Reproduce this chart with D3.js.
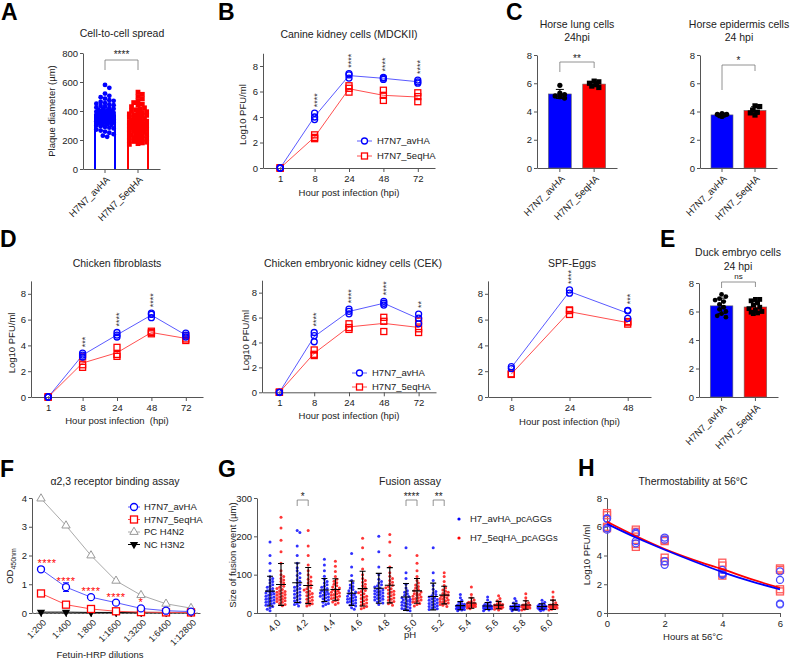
<!DOCTYPE html>
<html>
<head>
<meta charset="utf-8">
<script src="https://cdn.jsdelivr.net/npm/d3@7"></script>
<style>
  body { margin: 0; background: #fff; }
  svg { display: block; font-family: "Liberation Sans", Arial, Helvetica, sans-serif; }
</style>
</head>
<body>
<svg id="fig" width="792" height="661"></svg>
<script>
// ---------------- data ----------------
const groups = ["H7N7_avHA", "H7N7_5eqHA"];

// A: plaque diameters (µm)
const plaqueAv = [580, 560, 520, 505, 495, 485, 475, 470, 462, 455, 450, 445, 440, 435, 430, 425, 420, 415, 412, 408,
  405, 400, 398, 395, 392, 390, 387, 385, 382, 380, 378, 375, 372, 370, 368, 365, 362, 360, 358, 355, 352, 350, 348,
  345, 342, 340, 338, 335, 332, 330, 327, 325, 322, 320, 316, 312, 308, 305, 300, 295, 290, 285, 280, 272, 265, 258,
  250, 240, 230, 222];
const plaqueEq = [530, 515, 500, 485, 470, 458, 448, 440, 430, 422, 415, 408, 400, 395, 390, 385, 380, 375, 370, 365,
  360, 355, 350, 346, 342, 338, 334, 330, 326, 322, 318, 315, 312, 309, 306, 303, 300, 297, 294, 291, 288, 285, 282,
  279, 276, 273, 270, 266, 262, 258, 254, 250, 246, 242, 238, 234, 230, 225, 220, 215, 210, 205, 200, 195, 190, 185,
  180, 175, 170];

// B: MDCKII growth curve (log10 PFU/ml, replicates per time point)
const hpi = ["1", "8", "24", "48", "72"];
const mdckAv = [[0, 0, 0], [3.8, 4.0, 4.3], [7.05, 7.3, 7.4], [6.95, 7.05, 7.1], [6.65, 6.75, 6.9]];
const mdckEq = [[0, 0, 0], [2.3, 2.4, 2.6], [5.95, 6.25, 6.45], [5.3, 5.7, 6.1], [5.2, 5.6, 5.9]];
const mdckStars = ["", "****", "****", "****", "****"];

// C: horse cells, 24 hpi
const lungAv = [5.85, 5.3, 5.2, 5.05, 4.95, 5.1];
const lungEq = [6.15, 6.1, 6.0, 5.8, 5.7, 5.9];
const epiAv = [3.85, 3.8, 3.8, 3.75, 3.7, 3.65];
const epiEq = [4.4, 4.35, 4.1, 3.95, 3.9, 3.75];

// D: chicken cells / eggs
const fibAv = [[0, 0, 0], [3.1, 3.25, 3.4], [4.65, 4.8, 5.0], [6.15, 6.4, 6.5], [4.65, 4.8, 4.95]];
const fibEq = [[0, 0, 0], [2.3, 2.5, 3.1], [3.15, 3.3, 3.85], [4.9, 5.0, 5.1], [4.38, 4.5, 4.75]];
const fibStars = ["", "***", "****", "****", ""];
const cekAv = [[0, 0, 0], [4.06, 4.55, 4.8], [6.3, 6.5, 6.67], [7.0, 7.15, 7.3], [5.5, 5.95, 6.28]];
const cekEq = [[0, 0, 0], [2.95, 3.05, 3.4], [5.05, 5.2, 5.5], [4.88, 5.7, 6.02], [4.8, 5.1, 5.72]];
const cekStars = ["", "****", "****", "****", "**"];
const eggHpi = ["8", "24", "48"];
const eggAv = [[2.2, 2.35], [8.05, 8.3], [6.1, 6.68, 6.72]];
const eggEq = [[1.75, 1.8], [6.4, 6.7, 6.75], [5.65, 5.8, 5.85]];
const eggStars = ["", "****", "***"];

// E: duck embryo cells, 24 hpi
const duckAv = [7.2, 7.05, 6.9, 6.8, 6.7, 6.5, 6.3, 6.15, 6.0, 5.85, 5.7, 5.6];
const duckEq = [6.85, 6.85, 6.75, 6.6, 6.45, 6.3, 6.2, 6.1, 6.0, 5.95, 5.9, 5.85];

// F: receptor binding (OD450)
const dilutions = ["1:200", "1:400", "1:800", "1:1600", "1:3200", "1:6400", "1:12800"];
const odAv = [1.52, 0.9, 0.55, 0.36, 0.16, 0.08, 0.05];
const odAvSd = [0.06, 0.15, 0.04, 0.04, 0.03, 0.02, 0.02];
const odEq = [0.68, 0.29, 0.14, 0.06, 0.03, 0.02, 0.02];
const odEqSd = [0.07, 0.04, 0.03, 0.02, 0.01, 0.01, 0.01];
const odPC = [3.98, 3.04, 2.0, 1.12, 0.62, 0.32, 0.17];
const odNC = [0.03, 0.03, 0.02, 0.02, 0.02, 0.02, 0.02];
const odStars = ["****", "****", "****", "****", "*", "", ""];
const fSeries = ["H7N7_avHA", "H7N7_5eqHA", "PC H4N2", "NC H3N2"];

// G: fusion event sizes (µm) per pH
const phs = ["4.0", "4.2", "4.4", "4.6", "4.8", "5.0", "5.2", "5.4", "5.6", "5.8", "6.0"];
const fusionAv = [
  [185, 150, 130, 110, 95, 90, 86, 82, 78, 74, 70, 67, 64, 61, 58, 56, 54, 52, 50, 48, 46, 44, 42, 40, 38, 36, 34, 32, 30, 28, 26, 24, 22, 20, 17, 14, 10, 6],
  [215, 210, 175, 150, 130, 118, 110, 104, 98, 92, 87, 82, 78, 74, 70, 67, 64, 61, 58, 55, 52, 49, 46, 43, 40, 37, 34, 31, 28, 25, 22, 18],
  [140, 125, 110, 96, 88, 82, 78, 74, 70, 67, 64, 61, 58, 56, 54, 52, 50, 48, 46, 44, 42, 40, 37, 34, 31, 28, 25, 22, 18],
  [155, 120, 98, 85, 78, 73, 69, 65, 61, 58, 55, 52, 50, 48, 46, 44, 42, 40, 38, 36, 34, 32, 30, 28, 26, 24, 21, 18, 14, 10],
  [200, 160, 120, 100, 88, 82, 78, 74, 71, 68, 65, 62, 60, 58, 56, 54, 52, 50, 48, 46, 44, 42, 40, 38, 36, 34, 32, 29, 26, 22],
  [170, 105, 90, 75, 65, 58, 54, 50, 46, 43, 40, 38, 36, 34, 32, 30, 28, 26, 24, 22, 20, 18, 16, 14, 12, 10, 8, 6],
  [170, 105, 85, 72, 62, 56, 52, 48, 45, 42, 39, 37, 35, 33, 31, 29, 27, 25, 23, 21, 19, 17, 15, 13, 11, 9],
  [48, 40, 33, 28, 25, 23, 21, 20, 19, 18, 17, 16, 15, 14, 13, 12, 11, 10, 9, 8, 6],
  [42, 34, 28, 24, 22, 20, 19, 18, 17, 16, 15, 14, 13, 12, 11, 10, 8, 6],
  [38, 31, 26, 22, 20, 18, 17, 16, 15, 14, 13, 12, 11, 10, 9, 7, 6],
  [33, 28, 25, 22, 20, 19, 18, 17, 16, 15, 14, 13, 12, 11, 10, 8, 6]
];
const fusionEq = [
  [250, 222, 190, 160, 130, 110, 100, 95, 90, 86, 82, 78, 74, 70, 67, 64, 61, 58, 56, 54, 52, 50, 48, 46, 44, 42, 40, 38, 36, 34, 32, 30, 28, 25, 22, 19],
  [215, 175, 150, 125, 110, 100, 94, 88, 83, 78, 74, 70, 66, 63, 60, 57, 54, 51, 48, 45, 42, 39, 36, 33, 30, 27, 24, 21, 18],
  [135, 122, 108, 95, 88, 83, 79, 75, 71, 68, 65, 62, 60, 58, 56, 54, 52, 50, 48, 46, 44, 42, 40, 38, 35, 32, 29, 26, 22],
  [195, 170, 140, 115, 100, 90, 85, 80, 75, 71, 67, 63, 59, 56, 53, 50, 47, 44, 41, 38, 35, 32, 29, 26, 23, 20, 17, 14, 11],
  [205, 185, 150, 120, 105, 96, 90, 85, 80, 76, 72, 69, 66, 63, 60, 57, 54, 51, 48, 45, 42, 39, 36, 33, 30, 27, 24, 20],
  [150, 130, 110, 95, 85, 78, 73, 69, 65, 61, 58, 55, 52, 50, 48, 46, 44, 42, 40, 38, 36, 34, 32, 30, 28, 25, 22, 18],
  [105, 95, 82, 72, 65, 60, 57, 54, 51, 48, 46, 44, 42, 40, 38, 36, 34, 32, 30, 28, 26, 24, 22, 20, 17],
  [68, 48, 40, 34, 30, 28, 26, 25, 24, 23, 22, 21, 20, 19, 18, 17, 16, 15, 13, 11],
  [45, 38, 32, 27, 24, 22, 21, 20, 19, 18, 17, 16, 15, 14, 13, 12, 10, 8],
  [50, 40, 32, 27, 23, 21, 20, 19, 18, 17, 16, 15, 14, 13, 12, 10, 8],
  [55, 42, 33, 27, 23, 21, 20, 19, 18, 17, 16, 15, 14, 13, 12, 10, 8]
];
const fusionStars = { "4.2": "*", "5.0": "****", "5.2": "**" };
const gSeries = ["H7_avHA_pcAGGs", "H7_5eqHA_pcAGGs"];

// H: thermostability at 56°C
const hoursH = [0, 1, 2, 4, 6];
const thermoAv = [[6.6, 6.55, 5.9, 5.8], [5.6, 5.5, 5.0, 4.85], [5.25, 5.1, 3.6, 3.35], [3.0, 2.75, 2.7, 2.65], [2.9, 2.3, 0.65, 0.6]];
const thermoEq = [[6.95, 6.8, 6.0, 5.9], [5.8, 5.65, 4.8, 4.6], [5.1, 5.0, 3.85, 3.6], [3.5, 3.3, 2.8, 2.6], [3.1, 3.0, 1.65, 1.5]];
const fitHours = [0, 1, 2, 3, 4, 5, 6];
const fitAv = [6.2, 5.25, 4.4, 3.6, 2.85, 2.2, 1.65];
const fitEq = [6.35, 5.35, 4.45, 3.7, 3.05, 2.35, 1.75];

// ---------------- helpers ----------------
const FONT = '"Liberation Sans", Arial, Helvetica, sans-serif';
const BLUE = "#0000ff", RED = "#ff0000", BLUE_L = "#5a5aff", RED_L = "#ff5050";
const AX = "#555";
const fmt = d3.format("d");
const svg = d3.select("#fig");

function axisStyle(g) {
  g.attr("font-family", FONT).attr("font-size", 9.5);
  g.selectAll(".domain, .tick line").attr("stroke", AX);
  g.selectAll(".tick text").attr("fill", "#222");
}
const bottom = x => d3.axisBottom(x).tickSize(4).tickPadding(3).tickSizeOuter(0);
const left = (y, ticks) => d3.axisLeft(y).tickValues(ticks).tickFormat(fmt).tickSize(3).tickPadding(2).tickSizeOuter(0);

function label(x, y, s, size = 9.5, anchor = "middle") {
  return svg.append("text").attr("x", x).attr("y", y).attr("font-size", size)
    .attr("text-anchor", anchor).attr("fill", "#222").style("white-space", "pre").text(s);
}

function vlabel(x, y, s, size = 9.5) {
  return svg.append("text").attr("transform", `translate(${x},${y}) rotate(-90)`)
    .attr("dy", "0.35em").attr("font-size", size).attr("text-anchor", "middle").attr("fill", "#222").text(s);
}

function letter(x, y, s) {
  svg.append("text").attr("x", x).attr("y", y).attr("font-size", 23).attr("font-weight", "bold").text(s);
}

// deterministic beeswarm spread of values around a centre
function swarm(vals, y, cx, r, half) {
  const pts = vals.map(v => ({ v, y: y(v) })).sort((a, b) => a.y - b.y);
  const step = r * 0.9;
  const kMax = Math.max(0, Math.floor(half / step));
  const done = [];
  for (const p of pts) {
    let best = 0, bestD = -1;
    for (let k = 0; k <= 2 * kMax; k++) {
      const off = (k % 2 ? 1 : -1) * Math.ceil(k / 2) * step;
      let m = Infinity;
      for (const q of done) {
        if (Math.abs(q.y - p.y) < 2 * r) m = Math.min(m, Math.hypot(q.x - cx - off, q.y - p.y));
      }
      if (m >= 1.8 * r) { best = off; break; }
      if (m > bestD) { bestD = m; best = off; }
    }
    p.x = cx + best;
    done.push(p);
  }
  return done;
}

function drawMarker(g, shape, x, y, color, size, fill) {
  if (shape === "ci") {
    g.append("circle").attr("cx", x).attr("cy", y).attr("r", size / 2)
      .attr("fill", fill || "none").attr("stroke", color).attr("stroke-width", 1.3);
  } else {
    g.append("rect").attr("x", x - size / 2).attr("y", y - size / 2).attr("width", size).attr("height", size)
      .attr("fill", fill || "none").attr("stroke", color).attr("stroke-width", 1.3);
  }
}

// growth curve panel (B, D)
function linePanel(o) {
  const x = d3.scalePoint().domain(o.cats).range([o.x0, o.x1]).padding(o.pad || 0.5);
  const y = d3.scaleLinear().domain([0, 9]).range([o.yb, o.yt]);
  svg.append("g").attr("transform", `translate(0,${o.yb})`).call(bottom(x)).call(axisStyle);
  svg.append("g").attr("transform", `translate(${o.x0},0)`).call(left(y, [0, 2, 4, 6, 8])).call(axisStyle);

  const line = d3.line().x((d, i) => x(o.cats[i])).y(d => y(d3.mean(d)));
  svg.append("path").datum(o.eq).attr("d", line).attr("fill", "none").attr("stroke", RED_L).attr("stroke-width", 1);
  svg.append("path").datum(o.av).attr("d", line).attr("fill", "none").attr("stroke", BLUE_L).attr("stroke-width", 1);

  const flat = reps => reps.flatMap((r, i) => r.map(v => ({ c: o.cats[i], v })));
  svg.append("g").selectAll("rect").data(flat(o.eq)).join("rect")
    .attr("x", d => x(d.c) - 3).attr("y", d => y(d.v) - 3).attr("width", 6).attr("height", 6)
    .attr("fill", "none").attr("stroke", RED).attr("stroke-width", 1.3);
  svg.append("g").selectAll("circle").data(flat(o.av)).join("circle")
    .attr("cx", d => x(d.c)).attr("cy", d => y(d.v)).attr("r", 3)
    .attr("fill", "none").attr("stroke", BLUE).attr("stroke-width", 1.3);

  const st = o.stars.map((s, i) => ({ s, c: o.cats[i], top: d3.max([...o.av[i], ...o.eq[i]]) })).filter(d => d.s);
  svg.append("g").selectAll("text").data(st).join("text")
    .attr("transform", d => `translate(${x(d.c)},${y(d.top) - 6}) rotate(-90)`)
    .attr("dy", "0.55em").attr("font-size", 9).attr("fill", "#333").text(d => d.s);

  label(o.tx, o.ty, o.title, 10.5);
  label((o.x0 + o.x1) / 2, o.xly, o.xlabel);
  if (o.ylx != null) vlabel(o.ylx, (o.yb + o.yt) / 2 + 4, "Log10 PFU/ml");

  if (o.legend) {
    const L = svg.append("g");
    [[BLUE_L, BLUE, "ci"], [RED_L, RED, "sq"]].forEach(([lc, c, s], i) => {
      const ly = o.legend.y[i], lx = o.legend.x;
      L.append("line").attr("x1", lx).attr("x2", lx + 15).attr("y1", ly).attr("y2", ly).attr("stroke", lc);
      drawMarker(L, s, lx + 7.5, ly, c, 6, "#fff");
      L.append("text").attr("x", lx + 20).attr("y", ly).attr("dy", "0.35em").attr("font-size", 9.5)
        .attr("fill", "#222").text(groups[i]);
    });
  }
}

// bar + dot panel (A, C, E)
function barPanel(o) {
  const x = d3.scaleBand().domain(groups).range([o.x0, o.x1]).paddingInner(1 / 3).paddingOuter(1 / 3);
  const y = d3.scaleLinear().domain([0, o.max]).range([o.yb, o.yt]);
  const bw = x.bandwidth();
  const gx = svg.append("g").attr("transform", `translate(0,${o.yb})`).call(bottom(x)).call(axisStyle);
  gx.selectAll(".tick text").attr("text-anchor", "end").attr("y", 0).attr("dy", "0.35em")
    .attr("transform", "translate(3,9) rotate(-45)");
  svg.append("g").attr("transform", `translate(${o.x0},0)`).call(left(y, o.ticks)).call(axisStyle);

  const sets = [{ g: groups[0], vals: o.av, color: BLUE, shape: "ci" }, { g: groups[1], vals: o.eq, color: RED, shape: "sq" }];
  sets.forEach(s => {
    const m = d3.mean(s.vals), sd = d3.deviation(s.vals);
    const cx = x(s.g) + bw / 2;
    if (o.outline) {
      svg.append("path").attr("d", `M${x(s.g) + 1},${o.yb}V${y(m)}H${x(s.g) + bw - 1}V${o.yb}`)
        .attr("fill", "#fff").attr("stroke", s.color).attr("stroke-width", 2);
    } else {
      svg.append("rect").attr("x", x(s.g)).attr("y", y(m)).attr("width", bw).attr("height", o.yb - y(m))
        .attr("fill", s.color).attr("stroke", "#666").attr("stroke-width", 0.6);
      svg.append("path").attr("d", `M${cx - 4},${y(m + sd)}H${cx + 4}M${cx},${y(m + sd)}V${y(m - sd)}M${cx - 4},${y(m - sd)}H${cx + 4}`)
        .attr("stroke", "#000").attr("stroke-width", 1).attr("fill", "none");
    }
    const g = svg.append("g");
    const dotColor = o.outline ? s.color : "#000";
    swarm(s.vals, y, cx, o.r, o.half).forEach(p => {
      if (s.shape === "ci") g.append("circle").attr("cx", p.x).attr("cy", p.y).attr("r", o.r).attr("fill", dotColor);
      else g.append("rect").attr("x", p.x - o.r).attr("y", p.y - o.r).attr("width", 2 * o.r).attr("height", 2 * o.r).attr("fill", dotColor);
    });
  });

  const b = o.bracket;
  const xa = x(groups[0]) + bw / 2, xb = x(groups[1]) + bw / 2;
  svg.append("path").attr("d", `M${xa},${b.lf}V${b.top}H${xb}V${b.rf}`)
    .attr("fill", "none").attr("stroke", "#777").attr("stroke-width", 0.8);
  label((xa + xb) / 2, b.ty, b.label, b.size || 10);

  o.title.forEach((t, i) => label(o.tx, o.ty[i], t, 10.5));
  if (o.ylabel) vlabel(o.ylx, (o.yb + o.yt) / 2, o.ylabel);
}

// ---------------- A ----------------
letter(1, 20, "A");
barPanel({
  x0: 83, x1: 160, yb: 169, yt: 53, max: 800, ticks: [0, 200, 400, 600, 800],
  av: plaqueAv, eq: plaqueEq, outline: true, r: 2.4, half: 9,
  bracket: { top: 60, lf: 70, rf: 70, label: "****", ty: 58 },
  title: ["Cell-to-cell spread"], tx: 122, ty: [37], ylabel: "Plaque diameter (µm)", ylx: 52
});

// ---------------- B ----------------
letter(218, 20, "B");
linePanel({
  cats: hpi, x0: 263, x1: 435, yb: 168, yt: 53.25, av: mdckAv, eq: mdckEq, stars: mdckStars,
  title: "Canine kidney cells (MDCKII)", tx: 349, ty: 38, xlabel: "Hour post infection (hpi)", xly: 196,
  ylx: 243, legend: { x: 357, y: [141, 156] }
});

// ---------------- C ----------------
letter(506, 20, "C");
barPanel({
  x0: 537, x1: 617, yb: 168, yt: 55, max: 8, ticks: [0, 2, 4, 6, 8],
  av: lungAv, eq: lungEq, r: 2.6, half: 7,
  bracket: { top: 62, lf: 72, rf: 68, label: "**", ty: 62 },
  title: ["Horse lung cells", "24hpi"], tx: 577, ty: [28, 41]
});
barPanel({
  x0: 700, x1: 777, yb: 168, yt: 55, max: 8, ticks: [0, 2, 4, 6, 8],
  av: epiAv, eq: epiEq, r: 2.6, half: 7,
  bracket: { top: 65, lf: 90, rf: 71, label: "*", ty: 64 },
  title: ["Horse epidermis cells", "24 hpi"], tx: 739, ty: [28, 41]
});

// ---------------- D ----------------
letter(0, 247, "D");
linePanel({
  cats: hpi, x0: 31, x1: 203, yb: 397, yt: 280.9, av: fibAv, eq: fibEq, stars: fibStars,
  title: "Chicken fibroblasts", tx: 117, ty: 267, xlabel: "Hour post infection  (hpi)", xly: 424, ylx: 12
});
linePanel({
  cats: hpi, x0: 262, x1: 436, yb: 392.3, yt: 280.2, av: cekAv, eq: cekEq, stars: cekStars,
  title: "Chicken embryonic kidney cells (CEK)", tx: 353, ty: 267, xlabel: "Hour post infection (hpi)", xly: 419,
  ylx: 246, legend: { x: 352, y: [373, 387] }
});
linePanel({
  cats: eggHpi, x0: 488, x1: 651, pad: 0.4, yb: 397, yt: 280.9, av: eggAv, eq: eggEq, stars: eggStars,
  title: "SPF-Eggs", tx: 572, ty: 267, xlabel: "Hour post infection (hpi)", xly: 425
});

// ---------------- E ----------------
letter(660, 247, "E");
barPanel({
  x0: 699, x1: 778, yb: 397, yt: 283, max: 8, ticks: [0, 2, 4, 6, 8],
  av: duckAv, eq: duckEq, r: 2.4, half: 8,
  bracket: { top: 282, lf: 288, rf: 287, label: "ns", ty: 279, size: 8 },
  title: ["Duck embryo cells", "24 hpi"], tx: 738, ty: [256, 270]
});

// ---------------- F ----------------
letter(0, 477, "F");
{
  const x0 = 32, x1 = 200, yb = 613, yt = 498;
  const x = d3.scalePoint().domain(dilutions).range([x0, x1]).padding(0.36);
  const y = d3.scaleLinear().domain([0, 4]).range([yb, yt]);
  const gx = svg.append("g").attr("transform", `translate(0,${yb})`).call(bottom(x)).call(axisStyle);
  gx.selectAll(".tick text").attr("text-anchor", "end").attr("y", 0).attr("dy", "0.35em")
    .attr("transform", "translate(3,8) rotate(-45)").attr("font-size", 9);
  svg.append("g").attr("transform", `translate(${x0},0)`).call(left(y, [0, 1, 2, 3, 4])).call(axisStyle);
  svg.append("line").attr("x1", x0).attr("x2", x1).attr("y1", y(0)).attr("y2", y(0))
    .attr("stroke", "#999").attr("stroke-dasharray", "2,2");

  const line = d3.line().x((d, i) => x(dilutions[i])).y(d => y(d));
  const tri = d3.symbol().type(d3.symbolTriangle).size(30);
  // PC
  svg.append("path").datum(odPC).attr("d", line).attr("fill", "none").attr("stroke", "#aaa");
  svg.append("g").selectAll("path").data(odPC).join("path").attr("d", tri)
    .attr("transform", (d, i) => `translate(${x(dilutions[i])},${y(d)})`)
    .attr("fill", "#fff").attr("stroke", "#999").attr("stroke-width", 1);
  // NC
  svg.append("path").datum(odNC).attr("d", line).attr("fill", "none").attr("stroke", "#000");
  svg.append("g").selectAll("path").data(odNC).join("path").attr("d", tri)
    .attr("transform", (d, i) => `translate(${x(dilutions[i])},${y(d)}) rotate(180)`).attr("fill", "#000");
  // 5eqHA and avHA
  [[odEq, odEqSd, RED, RED_L, "sq"], [odAv, odAvSd, BLUE, BLUE_L, "ci"]].forEach(([vals, sd, c, lc, s]) => {
    svg.append("path").datum(vals).attr("d", line).attr("fill", "none").attr("stroke", lc);
    const g = svg.append("g");
    vals.forEach((v, i) => {
      const cx = x(dilutions[i]);
      g.append("path").attr("d", `M${cx - 3},${y(v + sd[i])}H${cx + 3}M${cx},${y(v + sd[i])}V${y(v - sd[i])}M${cx - 3},${y(v - sd[i])}H${cx + 3}`)
        .attr("stroke", c).attr("stroke-width", 1);
      drawMarker(g, s, cx, y(v), c, 7, "#fff");
    });
  });
  // significance
  odStars.forEach((s, i) => {
    if (!s) return;
    svg.append("text").attr("x", Math.max(x(dilutions[i]), x0 + 15)).attr("y", y(odAv[i] + 0.28) + 6)
      .attr("text-anchor", "middle").attr("font-size", 11).attr("fill", RED).attr("letter-spacing", 0.5).text(s);
  });
  // legend
  const L = svg.append("g");
  const ly = [507, 519.5, 532, 544.5];
  fSeries.forEach((t, i) => {
    const c = [BLUE_L, RED_L, "#aaa", "#000"][i];
    L.append("line").attr("x1", 128).attr("x2", 140).attr("y1", ly[i]).attr("y2", ly[i]).attr("stroke", c);
    if (i === 0) drawMarker(L, "ci", 134, ly[i], BLUE, 7, "#fff");
    if (i === 1) drawMarker(L, "sq", 134, ly[i], RED, 7, "#fff");
    if (i === 2) L.append("path").attr("d", tri).attr("transform", `translate(134,${ly[i]})`).attr("fill", "#fff").attr("stroke", "#999");
    if (i === 3) L.append("path").attr("d", tri).attr("transform", `translate(134,${ly[i]}) rotate(180)`).attr("fill", "#000");
    L.append("text").attr("x", 144).attr("y", ly[i]).attr("dy", "0.35em").attr("font-size", 9.5).attr("fill", "#222").text(t);
  });
  label(115, 485, "α2,3 receptor binding assay", 10.5);
  label(100, 658, "Fetuin-HRP dilutions");
  const yl = svg.append("text").attr("transform", "translate(10,566) rotate(-90)").attr("dy", "0.35em")
    .attr("text-anchor", "middle").attr("font-size", 9.5).attr("fill", "#222");
  yl.append("tspan").text("OD");
  yl.append("tspan").attr("font-size", 7).attr("dy", "3").text("450nm");
}

// ---------------- G ----------------
letter(218, 477, "G");
{
  const x0 = 257, x1 = 558, yb = 613, yt = 498, off = 5.5;
  const x = d3.scalePoint().domain(phs).range([275.5, 547.5]);
  const y = d3.scaleLinear().domain([0, 300]).range([yb, yt]);
  const gx = svg.append("g").attr("transform", `translate(0,${yb})`).call(bottom(x)).call(axisStyle);
  gx.select(".domain").attr("d", `M${x0},0.5H${x1}`);
  gx.selectAll(".tick text").attr("text-anchor", "end").attr("y", 0).attr("dy", "0.35em")
    .attr("transform", "translate(3,8) rotate(-45)");
  svg.append("g").attr("transform", `translate(${x0},0)`).call(left(y, [0, 100, 200, 300])).call(axisStyle);

  const dots = svg.append("g"), bars = svg.append("g");
  phs.forEach((ph, i) => {
    [[fusionAv[i], -off, "#1a1aff"], [fusionEq[i], off, "#ff2020"]].forEach(([vals, dx, c]) => {
      const cx = x(ph) + dx;
      swarm(vals, y, cx, 1.5, 4.5).forEach(p => {
        dots.append("circle").attr("cx", p.x).attr("cy", p.y).attr("r", 1.5).attr("fill", c).attr("opacity", 0.9);
      });
      const m = d3.mean(vals), sd = d3.deviation(vals);
      const lo = Math.max(0, m - sd);
      bars.append("path")
        .attr("d", `M${cx - 5},${y(m)}H${cx + 5}M${cx - 3},${y(m + sd)}H${cx + 3}M${cx},${y(m + sd)}V${y(lo)}M${cx - 3},${y(lo)}H${cx + 3}`)
        .attr("stroke", "#000").attr("stroke-width", 1.1).attr("fill", "none");
    });
  });
  Object.entries(fusionStars).forEach(([ph, s]) => {
    const xa = x(ph) - off, xb = x(ph) + off;
    svg.append("path").attr("d", `M${xa},506V500H${xb}V506`).attr("fill", "none").attr("stroke", "#777").attr("stroke-width", 0.8);
    label((xa + xb) / 2, 500, s, 10);
  });
  [[gSeries[0], BLUE, 519], [gSeries[1], RED, 538]].forEach(([t, c, ly]) => {
    svg.append("circle").attr("cx", 459).attr("cy", ly).attr("r", 1.6).attr("fill", c);
    svg.append("text").attr("x", 470).attr("y", ly).attr("dy", "0.35em").attr("font-size", 9.5).attr("fill", "#222").text(t);
  });
  label(410, 485, "Fusion assay", 10.5);
  label(410, 638, "pH");
  vlabel(233, 555, "Size of fusion event (µm)");
}

// ---------------- H ----------------
letter(578, 476, "H");
{
  const x = d3.scaleLinear().domain([0, 6]).range([607, 780]);
  const y = d3.scaleLinear().domain([0, 8]).range([613, 498]);
  svg.append("g").attr("transform", "translate(0,613)")
    .call(bottom(x).tickValues([0, 2, 4, 6]).tickFormat(fmt)).call(axisStyle);
  svg.append("g").attr("transform", "translate(607,0)").call(left(y, [0, 2, 4, 6, 8])).call(axisStyle);
  const g = svg.append("g");
  thermoEq.forEach((reps, i) => reps.forEach(v => drawMarker(g, "sq", x(hoursH[i]), y(v), "#ff5a5a", 7)));
  thermoAv.forEach((reps, i) => reps.forEach(v => drawMarker(g, "ci", x(hoursH[i]), y(v), "#4a4aff", 7)));
  const fit = d3.line().x((d, i) => x(fitHours[i])).y(d => y(d)).curve(d3.curveMonotoneX);
  svg.append("path").datum(fitEq).attr("d", fit).attr("fill", "none").attr("stroke", RED).attr("stroke-width", 1.8);
  svg.append("path").datum(fitAv).attr("d", fit).attr("fill", "none").attr("stroke", BLUE).attr("stroke-width", 1.8);
  label(693, 485, "Thermostability at 56°C", 10.5);
  label(693, 640, "Hours at 56°C");
  vlabel(587, 555, "Log10 PFU/ml");
}
</script>
</body>
</html>
